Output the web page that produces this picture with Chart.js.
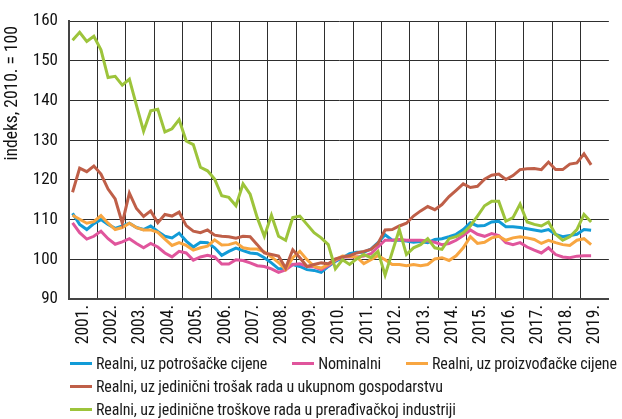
<!DOCTYPE html>
<html lang="hr">
<head>
<meta charset="utf-8">
<title>Indeksi efektivnog tečaja kune</title>
<script src="https://cdn.jsdelivr.net/npm/chart.js@4.4.1/dist/chart.umd.min.js"></script>
<style>
  html, body { margin: 0; padding: 0; background: #fff; }
  #wrap { position: relative; width: 622px; height: 419px; overflow: hidden; }
  #legend {
    position: absolute; left: 70px; top: 352px; width: 600px;
    font-family: 'Roboto Condensed', 'Liberation Sans Narrow', 'Arial Narrow', 'DejaVu Sans Condensed', sans-serif;
    font-size: 16px; letter-spacing: -0.15px; color: #1a1a1a;
  }
  #legend .row { display: flex; align-items: center; height: 23px; white-space: nowrap; }
  #legend .item { display: flex; align-items: center; flex: none; margin-right: 25px; }
  #legend .swatch { width: 22px; height: 3px; margin-right: 4px; flex: none; }
</style>
</head>
<body>
<div id="wrap">
  <canvas id="chart" width="622" height="419"></canvas>
  <div id="legend"></div>
</div>
<script>
const FONT = "'Roboto Condensed', 'Liberation Sans Narrow', 'Arial Narrow', 'DejaVu Sans Condensed', sans-serif";

// Years on the axis and the quarters inside them
const years = ['2001.', '2002.', '2003.', '2004.', '2005.', '2006.', '2007.', '2008.', '2009.', '2010.',
  '2011.', '2012.', '2013.', '2014.', '2015.', '2016.', '2017.', '2018.', '2019.'];
const quarters = ['I.', 'II.', 'III.', 'IV.'];
const yTicks = [90, 100, 110, 120, 130, 140, 150, 160];
const yTitle = 'indeks, 2010. = 100';

// Quarterly index values, 2001 Q1 – 2019 Q2 (2010 = 100)
const realCpi = [
  111.6, 108.8, 107.5, 109.0, 110.0, 108.8, 107.8, 108.4, 109.1, 108.0, 107.5, 108.4,
  107.0, 105.8, 105.4, 106.6, 104.6, 103.1, 104.3, 104.2, 102.9, 101.0, 102.0, 102.8,
  102.2, 101.6, 101.4, 100.4, 99.1, 97.6, 97.6, 98.7, 98.2, 97.4, 97.2, 96.7,
  98.2, 99.5, 100.4, 101.4, 101.8, 101.8, 102.6, 104.2, 106.2, 104.8, 104.8, 104.6,
  104.3, 104.5, 104.2, 105.0, 105.2, 105.7, 106.3, 107.5, 109.2, 108.4, 108.5, 109.4,
  109.6, 108.2, 108.2, 108.0, 107.7, 107.4, 107.1, 107.5, 106.3, 105.7, 106.0, 106.3,
  107.5, 107.3
];
const nominal = [
  109.2, 106.7, 105.1, 105.8, 107.1, 105.2, 103.8, 104.4, 105.2, 104.0, 102.9, 104.0,
  103.1, 101.6, 100.6, 102.0, 101.6, 99.8, 100.6, 101.0, 100.6, 98.8, 98.8, 99.9,
  99.7, 99.1, 98.4, 98.2, 97.6, 96.7, 97.3, 98.7, 98.9, 98.2, 98.1, 97.4,
  98.4, 99.7, 100.6, 100.6, 100.6, 100.8, 101.4, 103.1, 104.8, 104.8, 105.0, 104.8,
  104.8, 104.8, 104.6, 104.3, 103.7, 104.0, 104.8, 106.0, 107.4, 106.3, 105.8, 106.5,
  106.0, 104.2, 103.7, 104.2, 103.1, 102.3, 101.6, 102.9, 101.2, 100.6, 100.4, 100.8,
  100.9, 100.9
];
const realPpi = [
  111.1, 110.1, 109.1, 109.5, 111.0, 109.1, 107.5, 108.0, 109.1, 108.0, 107.4, 107.4,
  106.8, 105.1, 103.5, 104.2, 103.5, 102.3, 102.9, 103.3, 104.9, 103.6, 103.7, 104.2,
  102.9, 102.6, 102.6, 101.9, 100.6, 99.2, 97.4, 100.4, 102.0, 99.9, 98.2, 97.8,
  98.7, 99.9, 100.8, 100.7, 100.6, 98.9, 99.9, 100.9, 99.9, 98.7, 98.7, 98.4,
  98.7, 98.4, 98.7, 100.1, 100.4, 99.7, 100.9, 102.9, 105.7, 104.0, 104.3, 105.4,
  105.8, 104.8, 105.4, 105.7, 105.4, 105.0, 104.0, 104.8, 104.2, 103.7, 103.5, 104.8,
  105.2, 103.7
];
const realUlcTotal = [
  116.9, 123.0, 122.1, 123.5, 121.5, 117.7, 115.2, 109.1, 116.7, 112.8, 110.8, 112.2,
  109.2, 111.3, 110.9, 111.9, 108.5, 107.1, 106.7, 107.4, 106.1, 105.8, 105.7, 105.3,
  105.8, 105.7, 103.7, 101.6, 101.2, 100.8, 97.8, 102.4, 100.4, 98.2, 98.7, 99.1,
  98.9, 100.1, 100.6, 100.9, 101.6, 102.0, 102.5, 104.0, 107.4, 107.5, 108.4, 109.1,
  110.9, 112.2, 113.3, 112.5, 113.8, 115.8, 117.4, 119.0, 118.1, 118.4, 120.2, 121.2,
  121.5, 120.1, 121.1, 122.6, 122.8, 122.9, 122.6, 124.5, 122.6, 122.6, 124.0, 124.3,
  126.6, 123.8
];
const realUlcManuf = [
  155.2, 157.2, 154.9, 156.2, 152.8, 145.8, 146.1, 143.9, 145.4, 138.8, 132.3, 137.4,
  137.8, 132.1, 132.9, 135.2, 129.8, 128.9, 123.2, 122.3, 120.2, 116.0, 115.6, 113.5,
  119.0, 116.4, 110.5, 105.8, 111.1, 105.8, 104.8, 110.5, 110.9, 108.8, 106.7, 105.4,
  103.7, 97.6, 99.9, 98.7, 100.1, 101.2, 100.4, 102.0, 96.0, 101.8, 107.5, 101.2,
  102.9, 103.7, 105.2, 102.9, 102.5, 105.2, 105.7, 106.7, 108.4, 110.9, 113.5, 114.6,
  114.6, 109.6, 110.5, 113.9, 109.4, 108.8, 108.4, 109.4, 106.3, 104.8, 105.7, 107.5,
  111.3, 109.4
];

const quarterLabels = years.flatMap(y => quarters.map(q => q + ' tr. ' + y));

const series = [
  { label: 'Realni, uz potrošačke cijene', data: realCpi, color: '#129bd7' },
  { label: 'Nominalni', data: nominal, color: '#e0559c' },
  { label: 'Realni, uz proizvođačke cijene', data: realPpi, color: '#f8a641' },
  { label: 'Realni, uz jedinični trošak rada u ukupnom gospodarstvu', data: realUlcTotal, color: '#bf5f48' },
  { label: 'Realni, uz jedinične troškove rada u prerađivačkoj industriji', data: realUlcManuf, color: '#9dc43b' }
];
// legend rows: which series go on which line
const legendRows = [[0, 1, 2], [3], [4]];

const GRID = '#2e2e2e';

// y-axis caption, drawn rotated along the top part of the left axis
const yTitlePlugin = {
  id: 'yTitle',
  afterDraw(chart) {
    const { ctx, chartArea } = chart;
    ctx.save();
    ctx.translate(13, chartArea.top + 5);
    ctx.rotate(-Math.PI / 2);
    ctx.font = '17.5px ' + FONT;
    ctx.fillStyle = '#111';
    ctx.textAlign = 'right';
    ctx.textBaseline = 'middle';
    ctx.fillText(yTitle, 0, 0);
    ctx.restore();
  }
};

const chart = new Chart(document.getElementById('chart'), {
  type: 'line',
  data: {
    labels: quarterLabels,
    datasets: series.map((s, i) => ({
      label: s.label,
      data: s.data,
      borderColor: s.color,
      backgroundColor: s.color,
      borderWidth: 3,
      pointRadius: 0,
      tension: 0,
      order: series.length - i
    }))
  },
  options: {
    responsive: false,
    animation: false,
    layout: { padding: { top: 15, right: 2, left: 0, bottom: 0 } },
    plugins: {
      legend: { display: false },
      tooltip: { enabled: false }
    },
    scales: {
      x: {
        type: 'category',
        offset: true,
        grid: {
          offset: true,
          drawTicks: false,
          color: ctx => (ctx.index % 4 === 0 ? GRID : 'rgba(0,0,0,0)'),
          lineWidth: 1
        },
        border: { color: '#444', width: 2 },
        ticks: { display: false, autoSkip: false }
      },
      x2: {
        type: 'category',
        position: 'bottom',
        labels: years,
        offset: true,
        grid: { display: false, drawTicks: false },
        border: { display: false },
        ticks: {
          autoSkip: false,
          maxRotation: 90,
          minRotation: 90,
          padding: 6,
          color: '#111',
          font: { family: FONT, size: 17.5 }
        },
        afterFit: scale => { scale.height = 120; }
      },
      y: {
        min: yTicks[0],
        max: yTicks[yTicks.length - 1],
        afterBuildTicks: scale => { scale.ticks = yTicks.map(v => ({ value: v })); },
        grid: { color: GRID, lineWidth: 1, drawTicks: false },
        border: { color: '#444', width: 2 },
        ticks: {
          padding: 11,
          color: '#111',
          font: { family: FONT, size: 17 }
        },
        afterFit: scale => { scale.width = 69; }
      }
    }
  },
  plugins: [yTitlePlugin]
});

// HTML legend built from the chart's datasets
const legendEl = document.getElementById('legend');
legendRows.forEach(row => {
  const rowEl = document.createElement('div');
  rowEl.className = 'row';
  row.forEach(idx => {
    const ds = chart.data.datasets[idx];
    const item = document.createElement('div');
    item.className = 'item';
    const sw = document.createElement('span');
    sw.className = 'swatch';
    sw.style.background = ds.borderColor;
    const txt = document.createElement('span');
    txt.textContent = ds.label;
    item.appendChild(sw);
    item.appendChild(txt);
    rowEl.appendChild(item);
  });
  legendEl.appendChild(rowEl);
});
</script>
</body>
</html>
